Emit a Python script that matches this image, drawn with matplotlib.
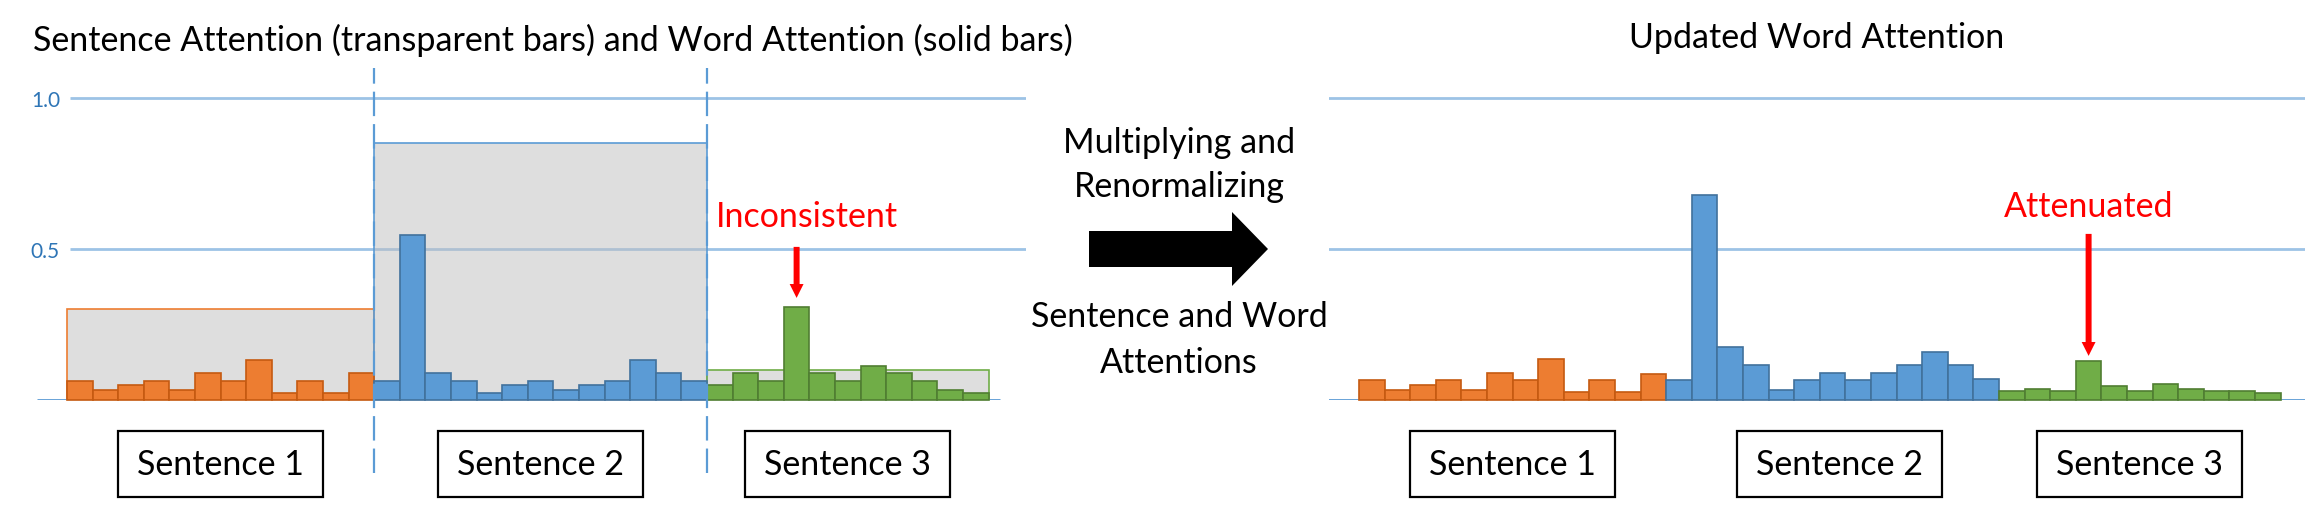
import numpy as np
import matplotlib.pyplot as plt
from matplotlib.patches import Rectangle, Polygon

W, H = 2307, 510
plt.rcParams['font.family'] = ['Lato', 'DejaVu Sans']

sentences = ['Sentence 1', 'Sentence 2', 'Sentence 3']
sent_attention = [0.30, 0.85, 0.10]
word_attention = [
    [0.064, 0.034, 0.051, 0.064, 0.034, 0.091, 0.064, 0.134, 0.024, 0.064, 0.024, 0.091],
    [0.064, 0.546, 0.089, 0.064, 0.024, 0.051, 0.064, 0.033, 0.051, 0.064, 0.134, 0.089, 0.064],
    [0.050, 0.089, 0.063, 0.308, 0.089, 0.063, 0.113, 0.089, 0.063, 0.033, 0.022],
]
updated_attention = [
    [0.067, 0.034, 0.051, 0.067, 0.034, 0.091, 0.067, 0.137, 0.028, 0.067, 0.028, 0.087],
    [0.067, 0.680, 0.177, 0.117, 0.034, 0.067, 0.091, 0.067, 0.091, 0.117, 0.160, 0.117, 0.071],
    [0.029, 0.035, 0.031, 0.130, 0.047, 0.029, 0.052, 0.035, 0.029, 0.029, 0.022],
]
fills = ['#ED7D31', '#5B9BD5', '#70AD47']
edges = ['#C55A11', '#41719C', '#507E32']
grid_c = '#9DC3E6'
axis_c = '#5B9BD5'
FS = 24.5

fig = plt.figure(figsize=(W / 100, H / 100), dpi=100)

UNIT = 25.6   # px per word
BASE = 401    # px of y=0
SCALE = 302   # px per 1.0


def add_ax(x0, x1, y0, y1, bar0):
    ax = fig.add_axes([x0 / W, 1 - y1 / H, (x1 - x0) / W, (y1 - y0) / H])
    ax.set_xlim((x0 - bar0) / UNIT, (x1 - bar0) / UNIT)
    ax.set_ylim(0, (BASE - y0) / SCALE)
    for s in ax.spines.values():
        s.set_visible(False)
    ax.set_xticks([])
    ax.set_yticks([])
    return ax


def draw_words(ax, values):
    start = 0
    mids = []
    for vals, fc, ec in zip(values, fills, edges):
        x = np.arange(start, start + len(vals)) + 0.5
        ax.bar(x, vals, width=1, color=fc, edgecolor=ec, lw=1.2, zorder=2, clip_on=False)
        mids.append(start + len(vals) / 2)
        start += len(vals)
    return mids


def draw_boxes(ax, mids, shifts=(0, 0, 0)):
    for m, d, name in zip(mids, shifts, sentences):
        m = m + d
        ax.add_patch(Rectangle((m - 4, -0.321), 8, 0.218, fc='white', ec='black',
                               lw=1.6, clip_on=False, zorder=3))
        ax.text(m, -0.212, name, ha='center', va='center', fontsize=FS, zorder=4, clip_on=False)


# left panel
ax1 = add_ax(37, 1026, 60, 401, 67)
x_lo, x_hi = ax1.get_xlim()
ax1.hlines([0.5, 1.0], (70 - 67) / UNIT, x_hi, color=grid_c, lw=2, zorder=0.5)
ax1.hlines(0, x_lo, (1000 - 67) / UNIT, color=axis_c, lw=2, zorder=1.5)
ax1.set_yticks([0.5, 1.0], ['0.5', '1.0'])
ax1.tick_params(axis='y', length=0, pad=-16.5, labelsize=15, labelcolor='#2E75B6')

start = 0
for vals, sa, ec in zip(word_attention, sent_attention, fills):
    ax1.bar(start + len(vals) / 2, sa, width=len(vals), facecolor=(0.75, 0.75, 0.75, 0.5),
            edgecolor=ec, lw=1.2, zorder=1)
    start += len(vals)
mids = draw_words(ax1, word_attention)
bounds = np.cumsum([len(v) for v in word_attention])[:-1]
ax1.vlines(bounds, -0.242, 1.099, color=axis_c, lw=1.6, linestyle=(0, (11, 3.6)),
           zorder=3, clip_on=False)
draw_boxes(ax1, mids)
ax1.text(28.9, 0.609, 'Inconsistent', color='red', ha='center', va='center', fontsize=FS)
ax1.annotate('', xy=(28.5, 0.338), xytext=(28.5, 0.507),
             arrowprops=dict(facecolor='red', edgecolor='none', width=4.3,
                             headwidth=10, headlength=10, shrink=0))

# right panel
ax2 = add_ax(1329, 2305, 60, 401, 1359)
ax2.axhline(0.5, color=grid_c, lw=2, zorder=0.5)
ax2.axhline(1.0, color=grid_c, lw=2, zorder=0.5)
ax2.axhline(0, color=axis_c, lw=2, zorder=1.5)
mids2 = draw_words(ax2, updated_attention)
draw_boxes(ax2, mids2, shifts=(0, 0.27, 0))
ax2.text(28.5, 0.642, 'Attenuated', color='red', ha='center', va='center', fontsize=FS)
ax2.annotate('', xy=(28.5, 0.146), xytext=(28.5, 0.55),
             arrowprops=dict(facecolor='red', edgecolor='none', width=4.3,
                             headwidth=10, headlength=10, shrink=0))


# titles and middle arrow
def ftext(x, y, s, **kw):
    fig.text(x / W, 1 - y / H, s, ha='center', va='center', fontsize=FS, **kw)


ftext(553, 40, 'Sentence Attention (transparent bars) and Word Attention (solid bars)')
ftext(1817, 38, 'Updated Word Attention')
ftext(1179, 143, 'Multiplying and')
ftext(1179, 187, 'Renormalizing')
ftext(1179, 317, 'Sentence and Word')
ftext(1179, 363, 'Attentions')

pts = [(1089, 232), (1232, 232), (1232, 213), (1268, 250), (1232, 287), (1232, 268), (1089, 268)]
fig.add_artist(Polygon([(x / W, 1 - y / H) for x, y in pts], closed=True,
                       transform=fig.transFigure, fc='black', ec='none'))

fig.savefig('out.png', dpi=100)
